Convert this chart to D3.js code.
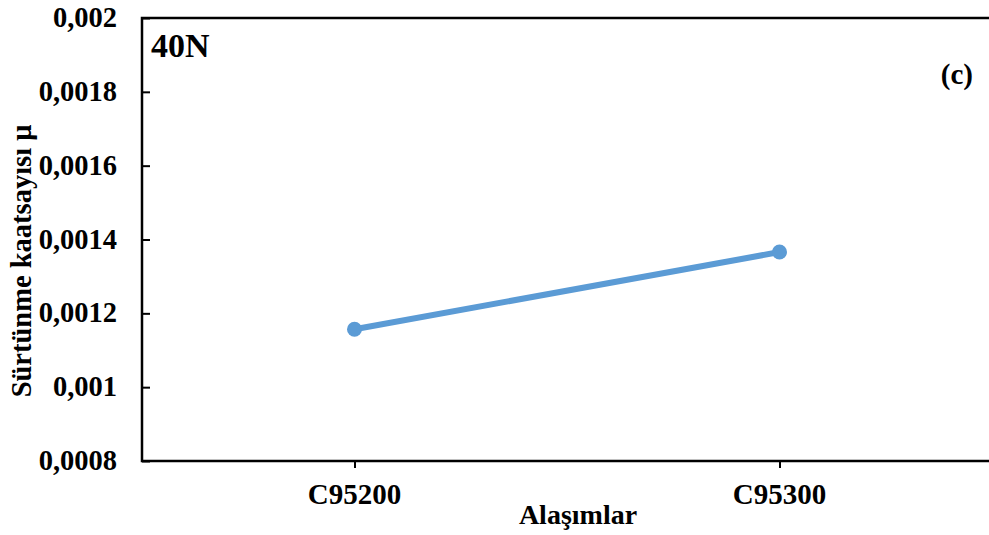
<!DOCTYPE html>
<html>
<head>
<meta charset="utf-8">
<script src="https://cdn.jsdelivr.net/npm/d3@7"></script>
<style>
  body { margin: 0; background: #fff; }
  text { font-family: "Liberation Serif", "Times New Roman", serif; font-weight: bold; }
</style>
</head>
<body>
<div id="chart"></div>
<script>
// data
var alloys = ["C95200", "C95300"];
var friction = [0.001157, 0.001366];
var yTicks = [0.0008, 0.001, 0.0012, 0.0014, 0.0016, 0.0018, 0.002];

var width = 989, height = 535;
var margin = {top: 18, right: -3, bottom: 74, left: 142};

var svg = d3.select("#chart").append("svg")
    .attr("width", width)
    .attr("height", height);

var x = d3.scalePoint()
    .domain(alloys)
    .range([margin.left, width - margin.right])
    .padding(0.5);

var y = d3.scaleLinear()
    .domain([0.0008, 0.002])
    .range([height - margin.bottom, margin.top]);

var fmt = function(d) { return String(+d.toFixed(4)).replace(".", ","); };

// y axis, ticks point inward
var yAxis = svg.append("g")
    .attr("transform", "translate(" + margin.left + ",0)")
    .call(d3.axisRight(y).tickValues(yTicks).tickSize(8).tickFormat(""));
yAxis.select(".domain").remove();
yAxis.selectAll("line").attr("stroke", "#000").attr("stroke-width", 2);

svg.append("g").selectAll("text")
    .data(yTicks)
    .enter().append("text")
    .attr("x", margin.left - 25)
    .attr("y", function(d) { return y(d) + 9; })
    .attr("text-anchor", "end")
    .style("font-size", "28.5px")
    .text(fmt);

// x axis
var xAxis = svg.append("g")
    .attr("transform", "translate(0," + (height - margin.bottom) + ")")
    .call(d3.axisBottom(x).tickSize(7).tickFormat(""));
xAxis.select(".domain").remove();
xAxis.selectAll("line").attr("stroke", "#000").attr("stroke-width", 2);

svg.append("g").selectAll("text")
    .data(alloys)
    .enter().append("text")
    .attr("x", function(d) { return x(d); })
    .attr("y", height - margin.bottom + 43)
    .attr("text-anchor", "middle")
    .style("font-size", "29px")
    .text(function(d) { return d; });

// frame: left, bottom, top
var y0 = y(0.0008), y1 = y(0.002);
svg.append("path")
    .attr("d", "M" + width + "," + y1 + "H" + margin.left + "V" + y0 + "H" + width)
    .attr("fill", "none")
    .attr("stroke", "#000")
    .attr("stroke-width", 2.5);

// series
var line = d3.line()
    .x(function(d, i) { return x(alloys[i]); })
    .y(function(d) { return y(d); });

svg.append("path")
    .datum(friction)
    .attr("d", line)
    .attr("fill", "none")
    .attr("stroke", "#5b9bd5")
    .attr("stroke-width", 6);

svg.selectAll(".pt")
    .data(friction)
    .enter().append("circle")
    .attr("class", "pt")
    .attr("cx", function(d, i) { return x(alloys[i]); })
    .attr("cy", function(d) { return y(d); })
    .attr("r", 7.5)
    .attr("fill", "#5b9bd5");

// labels
svg.append("text")
    .attr("x", 151)
    .attr("y", 57)
    .style("font-size", "34px")
    .text("40N");

svg.append("text")
    .attr("x", 973)
    .attr("y", 84)
    .attr("text-anchor", "end")
    .style("font-size", "29px")
    .text("(c)");

svg.append("text")
    .attr("x", 578)
    .attr("y", 524)
    .attr("text-anchor", "middle")
    .style("font-size", "28px")
    .text("Alaşımlar");

svg.append("text")
    .attr("transform", "translate(31,261) rotate(-90)")
    .attr("text-anchor", "middle")
    .style("font-size", "28.5px")
    .text("Sürtünme kaatsayısı μ");
</script>
</body>
</html>
